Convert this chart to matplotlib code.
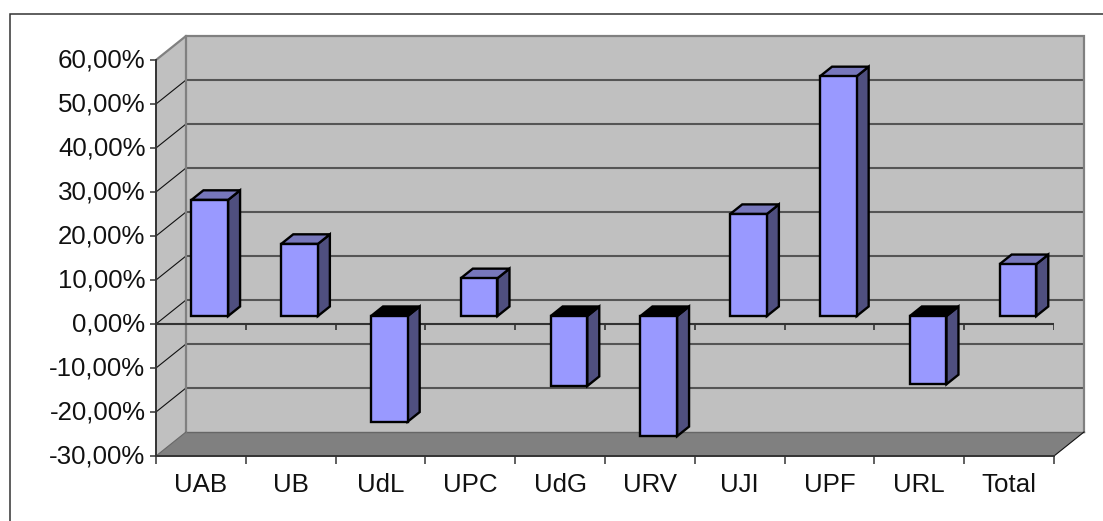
import numpy as np
import matplotlib
matplotlib.use("Agg")
import matplotlib.pyplot as plt
from matplotlib.patches import Polygon
from matplotlib.lines import Line2D
from matplotlib.transforms import ScaledTranslation

categories = ["UAB", "UB", "UdL", "UPC", "UdG", "URV", "UJI", "UPF", "URL", "Total"]
values = [26.4, 16.4, -24.0, 8.6, -15.9, -27.3, 23.2, 54.5, -15.5, 11.8]
ytick_values = [-30, -20, -10, 0, 10, 20, 30, 40, 50, 60]
ytick_labels = ["-30,00%", "-20,00%", "-10,00%", "0,00%", "10,00%", "20,00%",
                "30,00%", "40,00%", "50,00%", "60,00%"]

W, H = 1103, 521
L, R, T, B = 156, 1054, 60, 456
plt.rcParams["font.family"] = ["Liberation Sans", "DejaVu Sans"]
fig = plt.figure(figsize=(W / 100, H / 100), dpi=100, facecolor="white")
ax = fig.add_axes([L / W, 1 - B / H, (R - L) / W, (B - T) / H])
ax.set_xlim(0, len(categories))
ax.set_ylim(-30, 60)
ax.patch.set_visible(False)

DX = 30 * len(categories) / (R - L)   # depth in category units
DY = 24 * 90 / (B - T)                # depth in value units
n = len(categories)
GRID = "#555555"
WALL_EDGE = "#808080"


def poly(pts, fc, ec="none", lw=0.0, z=1, join="miter"):
    ax.add_patch(Polygon(pts, closed=True, facecolor=fc, edgecolor=ec, linewidth=lw,
                         zorder=z, clip_on=False, joinstyle=join))


# walls and floor
poly([(DX, -30 + DY), (n + DX, -30 + DY), (n + DX, 60 + DY), (DX, 60 + DY)], "#C0C0C0", z=1)
poly([(0, -30), (DX, -30 + DY), (DX, 60 + DY), (0, 60)], "#C0C0C0", z=1)
poly([(0, -30), (n, -30), (n + DX, -30 + DY), (DX, -30 + DY)], "#808080", z=1)

# gridlines on back wall and side wall
for v in ytick_values[1:-1]:
    ax.plot([DX, n + DX], [v + DY, v + DY], color=GRID, lw=1.5, zorder=2, clip_on=False,
            solid_capstyle="butt")
    ax.plot([0, DX], [v, v + DY], color="#111111", lw=0.8, zorder=2, clip_on=False)
ax.plot([DX, n + DX], [-30 + DY, -30 + DY], color="#666666", lw=1.0, zorder=2, clip_on=False)

# wall outlines
ax.plot([0, DX, n + DX, n + DX], [60, 60 + DY, 60 + DY, -30 + DY], color=WALL_EDGE, lw=1.6,
        zorder=2, clip_on=False, solid_joinstyle="miter")
ax.plot([DX, DX], [-30 + DY, 60 + DY], color=WALL_EDGE, lw=1.6, zorder=2, clip_on=False)
ax.plot([n, n + DX], [-30, -30 + DY], color="#111111", lw=0.8, zorder=2, clip_on=False)
ax.plot([0, DX], [-30, -30 + DY], color="#666666", lw=0.8, zorder=2, clip_on=False)

# zero axis line with its ticks
ax.plot([0, n], [0, 0], color="#333333", lw=1.5, zorder=3, clip_on=False, solid_capstyle="butt")
ax.vlines(np.arange(n + 1), -1.4, 0, color="#333333", lw=1.2, zorder=3)

# 3-D bars
X = np.arange(n) + 0.5
WIDTH = 0.408
fx, fy = 0.295 * DX, 0.33 * DY   # front of the bar inside the depth
bx, by = 0.4 * DX, 0.4 * DY      # thickness of the bar
EDGE = 1.7
order = 10
for xc, v in zip(X, values):
    l = xc - WIDTH / 2 + fx
    r = xc + WIDTH / 2 + fx
    y0, y1 = fy, v + fy
    top = max(y0, y1)
    bot = min(y0, y1)
    poly([(r, bot), (r + bx, bot + by), (r + bx, top + by), (r, top)], "#4F4F7F", "black", EDGE, order)
    poly([(l, top), (r, top), (r + bx, top + by), (l + bx, top + by)],
         "#7777BB" if v > 0 else "#000000", "black", EDGE, order)
ax.bar(X + fx, values, WIDTH, bottom=fy, color="#9999FF", edgecolor="black", linewidth=EDGE,
       zorder=order + 1, clip_on=False)

# axes
for s in ("top", "right"):
    ax.spines[s].set_visible(False)
for s in ("left", "bottom"):
    ax.spines[s].set_color("#333333")
    ax.spines[s].set_linewidth(1.4)
    ax.spines[s].set_zorder(5)
ax.set_yticks(ytick_values)
ax.set_yticklabels(ytick_labels, fontsize=18.6, color="#111111")
ax.tick_params(axis="y", length=4, width=1.2, color="#444444", pad=3.6)
up = ScaledTranslation(0, 1.5 / 100, fig.dpi_scale_trans)
for lab in ax.get_yticklabels():
    lab.set_transform(lab.get_transform() + up)
ax.set_xticks(np.arange(n + 1))
ax.set_xticklabels([""] * (n + 1))
ax.tick_params(axis="x", which="major", length=6, width=1.2, color="#444444")
ax.set_xticks(X, minor=True)
ax.set_xticklabels(categories, minor=True, fontsize=18.6, color="#111111")
ax.tick_params(axis="x", which="minor", length=0, pad=12)

# chart-area frame (only top and left edges fall inside the picture)
fig.add_artist(Line2D([9.5 / W, 9.5 / W, 1], [0, 1 - 14 / H, 1 - 14 / H],
                      color="#333333", lw=1.1, solid_joinstyle="miter"))

fig.savefig("out.png", dpi=100, facecolor="white")
